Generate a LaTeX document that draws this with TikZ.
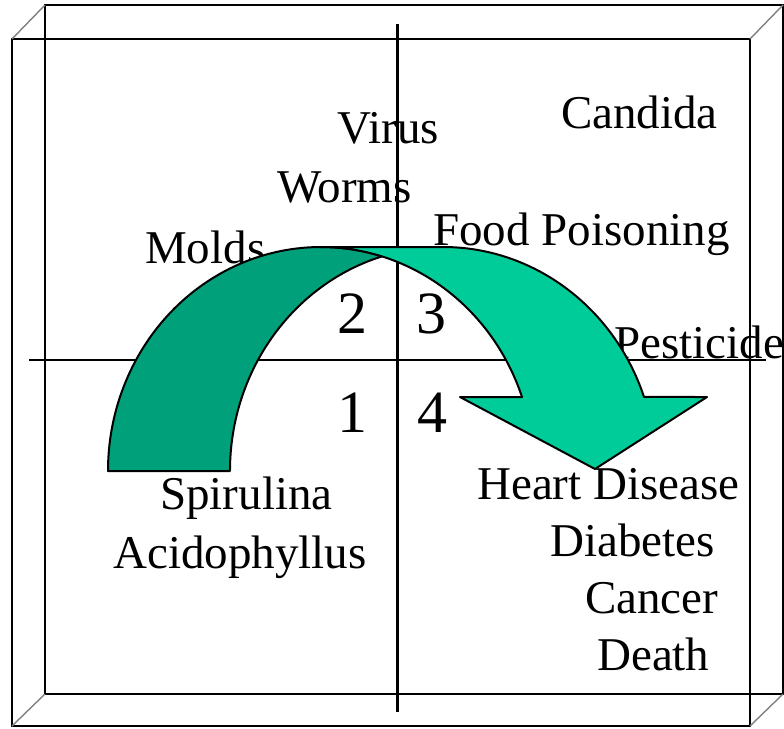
\documentclass[tikz,border=0pt]{standalone}
\usepackage{fontspec}
\setmainfont{Liberation Serif}
\definecolor{backgreen}{RGB}{0,160,122}
\definecolor{frontgreen}{RGB}{0,204,153}

\begin{document}
\begin{tikzpicture}[x=1pt,y=-1pt,
	frameline/.style={line width=1.4pt},
	axisline/.style={line width=2.6pt},
	arrowline/.style={line width=2pt,line join=round},
	lbl/.style={anchor=base west,inner sep=0pt,font=\fontsize{47}{56}\selectfont},
	quadnum/.style={anchor=base,inner sep=0pt,font=\fontsize{60}{72}\selectfont}]
			\useasboundingbox (0,0) rectangle (784,728);
			% box
			\draw[frameline] (12,39) rectangle (750,726);
			\draw[frameline] (45,5) rectangle (783,694);
			\draw[frameline,gray] (12,39) -- (45,5) (750,39) -- (783,5) (12,726) -- (45,694) (750,726) -- (783,694);
			% axes
			\draw[axisline] (397.5,24) -- (397.5,712);
			\draw[axisline] (29,360) -- (766,360);
			% labels
			\foreach \nm/\x/\y/\txt in {candida/561/128/Candida,virus/337/143/Virus,worms/277/202/Worms,
				food/433/245/Food Poisoning,molds/145/263/Molds,pest/614/358/Pesticide,
				spir/160/509/Spirulina,acid/113/568/Acidophyllus,heart/477/499/Heart Disease,
				diab/550/556/Diabetes,cancer/585/613/Cancer,death/597/670/Death}{
				\node[lbl] (\nm) at (\x,\y) {\txt};
			}
			% curved arrow
			\filldraw[arrowline,fill=backgreen] (108,471)
				arc[start angle=180,end angle=286.64,x radius=213,y radius=224]
				arc[start angle=253.36,end angle=180,x radius=213,y radius=224] -- cycle;
			\filldraw[arrowline,fill=frontgreen] (522,397)
				arc[start angle=340.7,end angle=270,x radius=213,y radius=224] -- (443,247)
				arc[start angle=270,end angle=340.7,x radius=213,y radius=224]
				-- (707,397) -- (595,469) -- (460,397) -- cycle;
			% quadrants
			\foreach \q/\x/\y in {2/352/333,3/431/333,1/352/432,4/432/432}{
				\node[quadnum] (q\q) at (\x,\y) {\q};
			}
		\end{tikzpicture}
\end{document}
